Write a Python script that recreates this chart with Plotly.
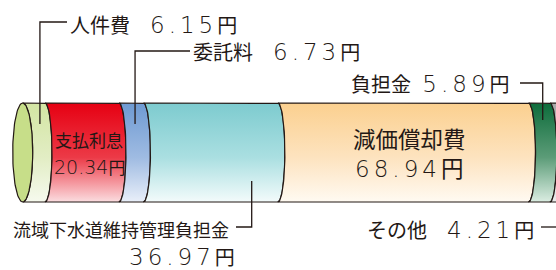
import numpy as np
import plotly.graph_objects as go

# ---------------- data ----------------
categories = ["人件費", "支払利息", "委託料", "流域下水道維持管理負担金", "減価償却費", "負担金", "その他"]
values = [6.15, 20.34, 6.73, 36.97, 68.94, 5.89, 4.21]
unit = "円"

# ---------------- styles ----------------
top_colors = ["#d3e5a3", "#e60012", "#6e9ad2", "#7dcbcf", "#fbd08f", "#0d6c3b", "#a8a8a8"]
bot_colors = ["#f6faee", "#fbdde0", "#e9eff9", "#f3fbfb", "#fffaf2", "#dbede2", "#ececec"]
mid_colors = ["#e2edc4", "#ec3a47", "#9fbbe2", "#aadfe1", "#fde3bf", "#5c9c78", "#c8c8c8"]
face_color = "#c7de89"
edge_color = "#231815"
text_color = "#231815"
FONT = "Noto Sans CJK JP"
NUM_FONT = "DejaVu Sans"

W, H = 556, 270
PX_PER_UNIT = 3.636
X0_PX = 22.7
YC_PX, YH_PX = 152.5, 49.5
ARC_RX = 7.0 / PX_PER_UNIT
FACE_RX = 10.0 / PX_PER_UNIT


def X(px):
    return (px - X0_PX) / PX_PER_UNIT


def Y(py):
    return (YC_PX - py) / YH_PX


cum = np.concatenate([[0.0], np.cumsum(values)])

fig = go.Figure()

t = np.linspace(np.pi / 2, -np.pi / 2, 48)
for i, name in enumerate(categories):
    a, b = cum[i], cum[i + 1]
    rxl = FACE_RX if i == 0 else ARC_RX
    xs = [a, b] + list(b + ARC_RX * np.cos(t)) + [b, a] + list(a + rxl * np.cos(t[::-1]))
    ys = [1, 1] + list(np.sin(t)) + [-1, -1] + list(np.sin(t[::-1]))
    fig.add_trace(go.Scatter(
        x=xs, y=ys, mode="lines", fill="toself",
        fillgradient=dict(type="vertical",
                          colorscale=[[0, bot_colors[i]], [0.45, mid_colors[i]], [1, top_colors[i]]]),
        line=dict(color=edge_color, width=1.2),
        hoverinfo="skip", showlegend=False, name=name,
    ))

# left face of the cylinder
s = np.linspace(0, 2 * np.pi, 100)
fig.add_trace(go.Scatter(
    x=list(FACE_RX * np.cos(s)), y=list(np.sin(s)), mode="lines", fill="toself",
    fillcolor=face_color, line=dict(color=edge_color, width=1.2),
    hoverinfo="skip", showlegend=False,
))


# ---------------- labels ----------------
def seg_x(i, frac):
    return cum[i] + values[i] * frac


def num(i, size=23, spacing=4, lead=""):
    return (f'<span style="font-family:{NUM_FONT};font-weight:200;font-size:{size}px;'
            f'letter-spacing:{spacing}px">{lead}{values[i]:.2f}</span>{unit}')


def leader(xs, ys):
    fig.add_trace(go.Scatter(x=xs, y=ys, mode="lines",
                             line=dict(color=edge_color, width=1.3),
                             hoverinfo="skip", showlegend=False))


def note(text, x, y, xanchor="left", size=20, height=26):
    fig.add_annotation(text=text, x=x, y=y, xref="x", yref="y", showarrow=False,
                       xanchor=xanchor, yanchor="middle", height=height,
                       align=xanchor if xanchor != "center" else "center",
                       font=dict(family=FONT, size=size, color=text_color))


# 人件費
lx = seg_x(0, 0.77)
leader([X(67), lx, lx], [Y(22), Y(22), Y(124)])
note(f"{categories[0]}\u3000{num(0)}", X(68), Y(24))

# 委託料
lx = seg_x(2, 0.655)
leader([X(190), lx, lx], [Y(51), Y(51), Y(124)])
note(f"{categories[2]}\u3000{num(2)}", X(191), Y(51))

# 負担金
lx = seg_x(5, 0.66)
leader([X(520), lx, lx], [Y(83), Y(83), Y(120)])
note(f"{categories[5]}{num(5, lead=' ')}", X(512), Y(83), xanchor="right")

# 流域下水道維持管理負担金
lx = seg_x(3, 0.805)
leader([X(236), lx, lx], [Y(227), Y(227), Y(181)])
note(categories[3], X(231), Y(229), xanchor="right", size=18, height=24)
note(num(3), X(237), Y(256), xanchor="right")

# その他
leader([X(541), X(570)], [Y(227), Y(227)])
note(f"{categories[6]}\u3000{num(6)}", X(536), Y(229), xanchor="right")

# inside labels
note(categories[1], X(89), Y(139), xanchor="center", size=17, height=22)
note(num(1, size=19, spacing=0), X(89), Y(166), xanchor="center", size=17, height=24)
note(f"{categories[4]}<br>{num(4)}", X(409), Y(152.5), xanchor="center", size=22.5, height=None)

fig.update_layout(
    width=W, height=H,
    margin=dict(l=0, r=0, t=0, b=0),
    paper_bgcolor="white", plot_bgcolor="white",
    xaxis=dict(range=[X(0), X(W)], visible=False, fixedrange=True),
    yaxis=dict(range=[Y(H), Y(0)], visible=False, fixedrange=True),
    showlegend=False,
)

fig.write_html(
    "out.html",
    config={"displayModeBar": False},
    post_script="document.body.style.margin='0';document.body.style.overflow='hidden';",
)
